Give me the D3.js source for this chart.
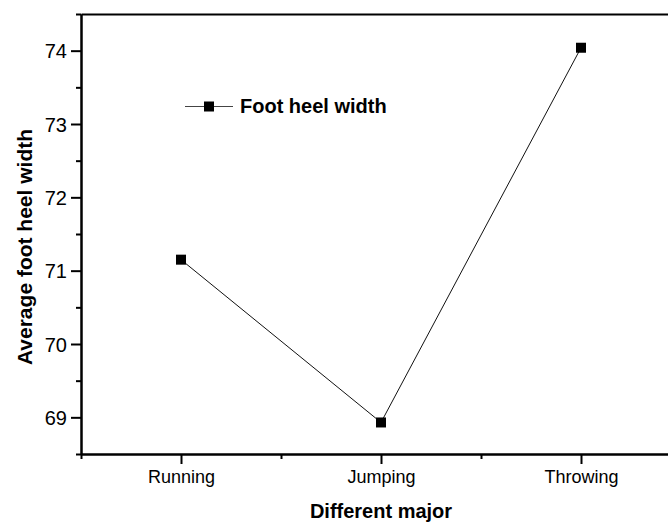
<!DOCTYPE html>
<html>
<head>
<meta charset="utf-8">
<script src="https://cdn.jsdelivr.net/npm/d3@7"></script>
<style>
  body { margin: 0; background: #fff; }
  svg { display: block; font-family: "Liberation Sans", Arial, sans-serif; }
</style>
</head>
<body>
<svg id="chart"></svg>
<script>
// data
const majors = ["Running", "Jumping", "Throwing"];
const heelWidth = [71.15, 68.93, 74.04];
const yTicks = [69, 70, 71, 72, 73, 74];
const yMinorTicks = [68.5, 69.5, 70.5, 71.5, 72.5, 73.5, 74.5];
const xMinorTicks = [0.5, 1.5, 2.5, 3.5];
const seriesName = "Foot heel width";

const width = 668;
const height = 523;
const margin = { top: 14, left: 81, bottom: 69 };
const fontFamily = '"Liberation Sans", Arial, sans-serif';

const svg = d3.select("#chart").attr("width", width).attr("height", height);

// x runs past the right edge of the window, as in the reference
const x = d3.scaleLinear().domain([0.5, 3.5]).range([margin.left, margin.left + 600]);
const y = d3.scaleLinear().domain([68.5, 74.5]).range([height - margin.bottom, margin.top]);

function styleAxis(g) {
  g.attr("font-family", fontFamily);
  g.selectAll("path.domain").attr("stroke", "#000").attr("stroke-width", 2);
  g.selectAll(".tick line").attr("stroke", "#000").attr("stroke-width", 2);
  g.selectAll(".tick text")
    .attr("fill", "#000")
    .style("font-size", "18px")
    .style("font-family", fontFamily);
}

// minor ticks first, majors drawn on top
svg.append("g")
  .attr("transform", `translate(${margin.left},0)`)
  .call(d3.axisLeft(y).tickValues(yMinorTicks).tickSize(5).tickFormat("").tickSizeOuter(0))
  .call(styleAxis);

svg.append("g")
  .attr("transform", `translate(0,${y(68.5)})`)
  .call(d3.axisBottom(x).tickValues(xMinorTicks).tickSize(5).tickFormat("").tickSizeOuter(0))
  .call(styleAxis);

svg.append("g")
  .attr("transform", `translate(${margin.left},0)`)
  .call(
    d3.axisLeft(y)
      .tickValues(yTicks)
      .tickSize(10)
      .tickPadding(4)
      .tickSizeOuter(0)
      .tickFormat(d3.format("d"))
  )
  .call(styleAxis)
  .selectAll(".tick text")
  .style("font-size", "20px")
  .attr("dy", "0.36em");

svg.append("g")
  .attr("transform", `translate(0,${y(68.5)})`)
  .call(
    d3.axisBottom(x)
      .tickValues([1, 2, 3])
      .tickSize(10)
      .tickPadding(6)
      .tickSizeOuter(0)
      .tickFormat((d) => majors[d - 1])
  )
  .call(styleAxis);

// top frame line
svg.append("g")
  .attr("transform", `translate(0,${y(74.5)})`)
  .call(d3.axisTop(x).tickValues([]).tickSizeOuter(0))
  .call(styleAxis);

// series
const points = majors.map((m, i) => ({ x: i + 1, y: heelWidth[i] }));

svg.append("path")
  .datum(points)
  .attr("fill", "none")
  .attr("stroke", "#111")
  .attr("stroke-width", 1)
  .attr("d", d3.line().x((d) => x(d.x)).y((d) => y(d.y)));

svg.selectAll("rect.marker")
  .data(points)
  .enter()
  .append("rect")
  .attr("class", "marker")
  .attr("x", (d) => x(d.x) - 5)
  .attr("y", (d) => y(d.y) - 5)
  .attr("width", 10)
  .attr("height", 10)
  .attr("fill", "#000");

// legend
const lX = 185;
const lY = 106.5;
svg.append("line")
  .attr("x1", lX)
  .attr("x2", lX + 48)
  .attr("y1", lY)
  .attr("y2", lY)
  .attr("stroke", "#444")
  .attr("stroke-width", 1);

svg.append("rect")
  .attr("x", lX + 19)
  .attr("y", lY - 5)
  .attr("width", 10)
  .attr("height", 10)
  .attr("fill", "#000");

svg.append("text")
  .attr("x", lX + 55)
  .attr("y", 113)
  .attr("font-size", "20px")
  .style("font-weight", "bold")
  .text(seriesName);

// axis titles
svg.append("text")
  .attr("x", x(2))
  .attr("y", 518)
  .attr("text-anchor", "middle")
  .attr("font-size", "20px")
  .style("font-weight", "bold")
  .text("Different major");

svg.append("text")
  .attr("transform", "translate(32,247) rotate(-90)")
  .attr("text-anchor", "middle")
  .attr("font-size", "21px")
  .style("font-weight", "bold")
  .text("Average foot heel width");
</script>
</body>
</html>
